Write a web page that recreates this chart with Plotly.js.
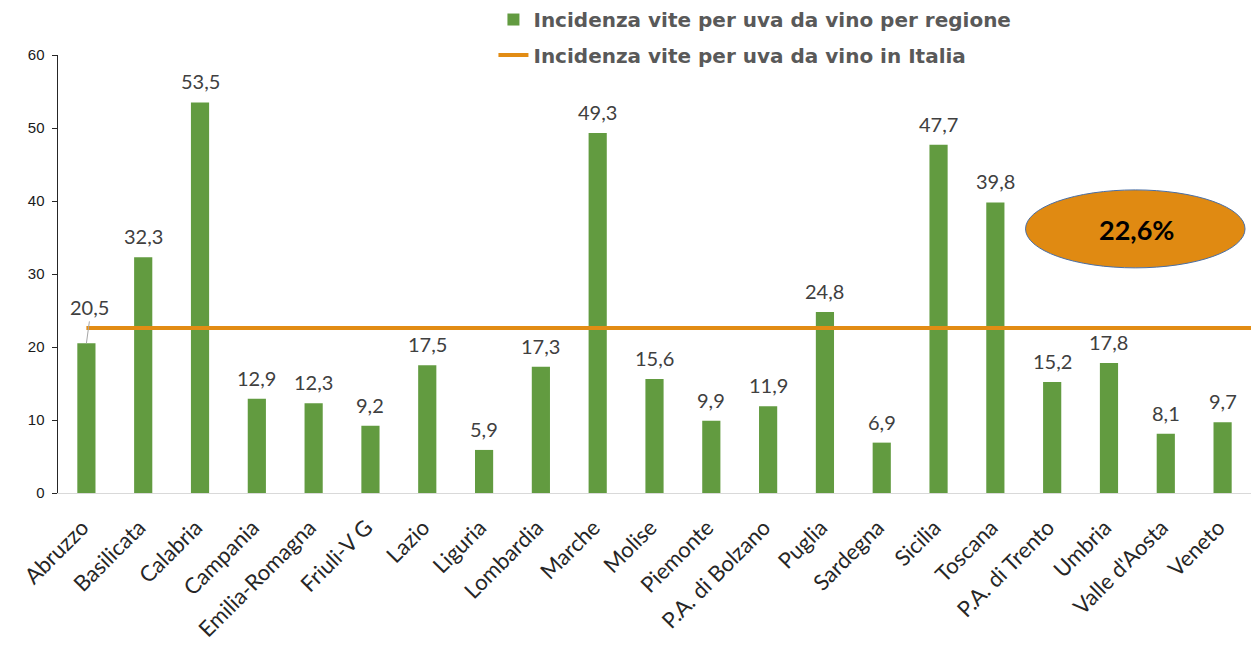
<!DOCTYPE html>
<html>
<head>
<meta charset="utf-8">
<script src="https://cdn.plot.ly/plotly-3.0.1.min.js"></script>
<style>
  html, body { margin: 0; padding: 0; background: #fff; }
  #chart { width: 1258px; height: 649px; }
</style>
</head>
<body>
<div id="chart"></div>
<script>
// regioni e incidenza (%) vite per uva da vino
var regioni = ['Abruzzo', 'Basilicata', 'Calabria', 'Campania', 'Emilia-Romagna', 'Friuli-V G',
  'Lazio', 'Liguria', 'Lombardia', 'Marche', 'Molise', 'Piemonte', 'P.A. di Bolzano', 'Puglia',
  'Sardegna', 'Sicilia', 'Toscana', 'P.A. di Trento', 'Umbria', "Valle d'Aosta", 'Veneto'];
var incidenza = [20.5, 32.3, 53.5, 12.9, 12.3, 9.2, 17.5, 5.9, 17.3, 49.3, 15.6, 9.9, 11.9, 24.8,
  6.9, 47.7, 39.8, 15.2, 17.8, 8.1, 9.7];
var italia = 22.6;
var yTicks = [0, 10, 20, 30, 40, 50, 60];

var verde = '#629b40';
var arancio = '#e28c14';

function virgola(v){
  return v.toFixed(1).replace('.', ',');
}

var idx = regioni.map(function(r, i){ return i; });

var traceBar = {
  type: 'bar',
  x: idx,
  y: incidenza,
  name: 'Incidenza vite per uva da vino per regione',
  marker: {color: verde},
  width: 0.32,
  legend: 'legend',
  hoverinfo: 'y'
};

var traceItalia = {
  type: 'scatter',
  mode: 'lines',
  x: [idx[0], idx[idx.length - 1] + 0.5],
  y: [italia, italia],
  name: 'Incidenza vite per uva da vino in Italia',
  line: {color: arancio, width: 4},
  legend: 'legend2'
};

// etichette dati
var annots = incidenza.map(function(v, i){
  var a = {
    x: i, y: v, text: virgola(v), xref: 'x', yref: 'y', xanchor: 'center',
    font: {family: 'Lato, sans-serif', size: 20, color: '#404040'},
    showarrow: false, yanchor: 'bottom', yshift: 7
  };
  if(i === 0){
    // etichetta spostata con linea di richiamo
    a.showarrow = true;
    a.arrowhead = 0;
    a.arrowwidth = 1;
    a.arrowcolor = '#a6a6a6';
    a.ax = 3;
    a.ay = -22;
    a.standoff = 0;
    a.yshift = 0;
  }
  return a;
});

annots.push({
  xref: 'paper', yref: 'paper', x: 0.904, y: 0.602, xanchor: 'center', yanchor: 'middle',
  text: '<b>' + virgola(italia) + '%</b>', showarrow: false,
  font: {family: 'Lato, sans-serif', size: 27, color: '#000'}
});

var legendFont = {family: 'DejaVu Sans, sans-serif', size: 20, color: '#595959', weight: 'bold'};

var layout = {
  width: 1258,
  height: 649,
  margin: {l: 58, r: 7, t: 55, b: 156, autoexpand: false},
  paper_bgcolor: '#fff',
  plot_bgcolor: '#fff',
  bargap: 0.68,
  showlegend: true,
  legend: {
    x: 0.365, xanchor: 'left', y: 1.081, yanchor: 'middle',
    bgcolor: 'rgba(0,0,0,0)',
    font: legendFont,
    itemwidth: 30
  },
  legend2: {
    x: 0.365, xanchor: 'left', y: 1.0, yanchor: 'middle',
    bgcolor: 'rgba(0,0,0,0)',
    font: legendFont,
    itemwidth: 30
  },
  xaxis: {
    type: 'linear',
    range: [-0.5, regioni.length - 0.5],
    tickvals: idx,
    ticktext: regioni,
    tickangle: -45,
    ticks: '',
    ticklabelstandoff: 12,
    ticklabelshift: -4,
    showgrid: false,
    zeroline: false,
    showline: true,
    linecolor: '#d9d9d9',
    linewidth: 1,
    tickfont: {family: 'Lato, sans-serif', size: 22, color: '#262626'}
  },
  yaxis: {
    range: [0, 60],
    tickvals: yTicks,
    ticks: 'outside',
    ticklen: 5,
    tickcolor: '#262626',
    ticklabelstandoff: 4,
    showgrid: false,
    zeroline: false,
    showline: true,
    linecolor: '#262626',
    linewidth: 1.5,
    tickfont: {family: 'Liberation Sans, Arial, sans-serif', size: 15, color: '#1a1a1a'}
  },
  shapes: [
    {
      type: 'circle', xref: 'paper', yref: 'paper',
      x0: 0.811, x1: 0.995, y0: 0.514, y1: 0.692,
      fillcolor: '#e08a12',
      line: {color: '#4a6fa5', width: 1}
    }
  ],
  annotations: annots
};

Plotly.newPlot('chart', [traceBar, traceItalia], layout, {displayModeBar: false, staticPlot: true});
</script>
</body>
</html>
